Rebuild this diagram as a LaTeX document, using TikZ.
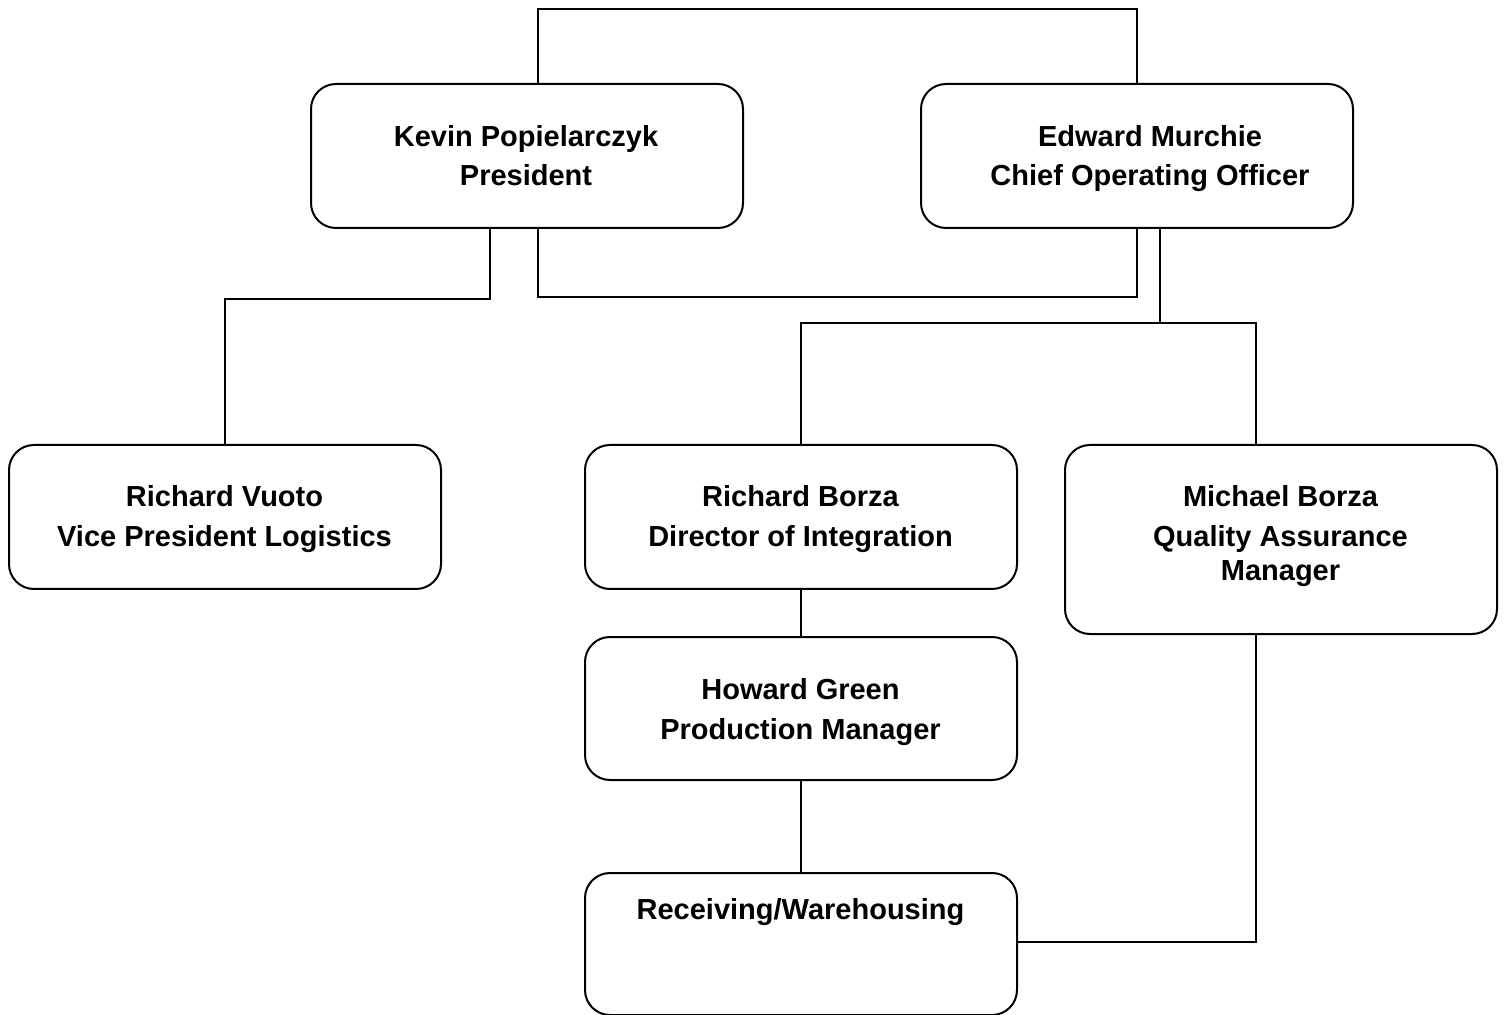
\documentclass[tikz,border=0pt]{standalone}
\usepackage{fontspec}
\setmainfont{Liberation Sans}
\begin{document}
\begin{tikzpicture}[x=0.5pt,y=-0.5pt,
  box/.style={draw=black,line width=1pt,rounded corners=12.5pt,fill=white,
    minimum width=216pt,inner sep=0pt,anchor=north west},
  txt/.style={inner sep=0pt,anchor=base,font=\fontsize{14.5pt}{20pt}\selectfont\bfseries},
  conn/.style={draw=black,line width=1pt}]
\useasboundingbox (0,0) rectangle (1504,1015);
% boxes
\node[box,minimum height=72pt] (kevin) at (310,83) {};
\node[box,minimum height=72pt] (edward) at (920,83) {};
\node[box,minimum height=72pt] (vuoto) at (8,444) {};
\node[box,minimum height=72pt] (borza) at (584,444) {};
\node[box,minimum height=94.5pt] (michael) at (1064,444) {};
\node[box,minimum height=71.5pt] (howard) at (584,636) {};
\node[box,minimum height=71pt] (recv) at (584,872) {};
% texts
\node[txt] (kevinA) at (526,147) {Kevin Popielarczyk};
\node[txt] (kevinB) at (526,186) {President};
\node[txt] (edwardA) at (1150,147) {Edward Murchie};
\node[txt] (edwardB) at (1150,186) {Chief Operating Officer};
\node[txt] (vuotoA) at (224.5,507) {Richard Vuoto};
\node[txt] (vuotoB) at (224.5,547) {Vice President Logistics};
\node[txt] (borzaA) at (800.5,507) {Richard Borza};
\node[txt] (borzaB) at (800.5,547) {Director of Integration};
\node[txt] (michaelA) at (1280.5,507) {Michael Borza};
\node[txt] (michaelB) at (1280.5,547) {Quality Assurance};
\node[txt] (michaelC) at (1280.5,581) {Manager};
\node[txt] (howardA) at (800.5,699) {Howard Green};
\node[txt] (howardB) at (800.5,739) {Production Manager};
\node[txt] (recvA) at (800.5,919) {Receiving/Warehousing};
% junction coordinates
\coordinate (toploop) at (837,9);
\coordinate (botloop) at (837,297);
\coordinate (leftjoin) at (357,299);
\coordinate (rightjoin) at (1160,323);
\coordinate (qajoin) at (1256,323);
% connectors
\draw[conn] ([xshift=5.5pt]kevin.north) |- (toploop) -| (edward.north);
\draw[conn] ([xshift=5.5pt]kevin.south) |- (botloop) -| (edward.south);
\draw[conn] ([xshift=-18.5pt]kevin.south) |- (leftjoin) -| (vuoto.north);
\draw[conn] (rightjoin |- edward.south) -- (rightjoin);
\draw[conn] (rightjoin) -| (borza.north);
\draw[conn] (rightjoin) -- (qajoin) -- (qajoin |- michael.north);
\draw[conn] (borza.south) -- (howard.north);
\draw[conn] (howard.south) -- (recv.north);
\draw[conn] (qajoin |- michael.south) |- ([yshift=1pt]recv.east);
\end{tikzpicture}
\end{document}
